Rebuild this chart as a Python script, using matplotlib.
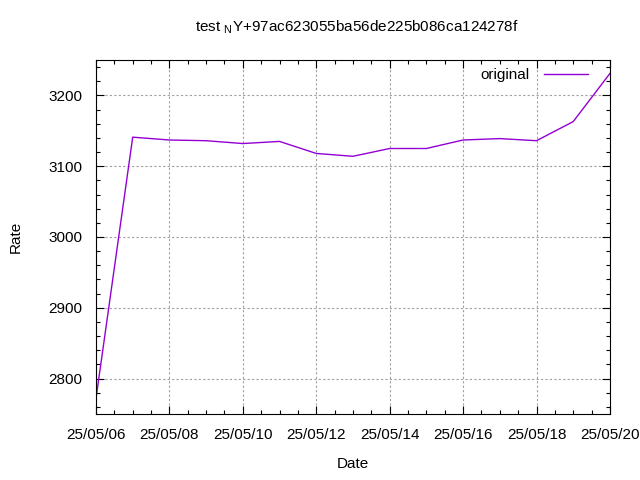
import numpy as np
import pandas as pd
import matplotlib
matplotlib.use('Agg')
import matplotlib.pyplot as plt
import matplotlib.dates as mdates
from matplotlib.ticker import MultipleLocator

plt.rcParams['font.family'] = ['Liberation Sans', 'DejaVu Sans']

# data
dates = pd.date_range('2025-05-06', '2025-05-20', freq='D')
rate = [2772, 3141, 3137, 3136, 3132, 3135, 3118, 3114,
        3125, 3125, 3137, 3139, 3136, 3163, 3231]
series_name = 'original'
title = 'test $_\\mathregular{N}$Y+97ac623055ba56de225b086ca124278f'

fig = plt.figure(figsize=(6.4, 4.8), dpi=100)
ax = fig.add_axes([0.15, 0.1375, 0.803, 0.7375])

ax.plot(dates, rate, color='#9400D3', lw=1, label=series_name)

ax.set_xlim(dates[0], dates[-1])
ax.set_ylim(2750, 3250)

ax.xaxis.set_major_locator(mdates.DayLocator(interval=2))
ax.xaxis.set_minor_locator(mdates.HourLocator(byhour=[0, 12]))
ax.xaxis.set_major_formatter(mdates.DateFormatter('%y/%m/%d'))
ax.yaxis.set_major_locator(MultipleLocator(100))
ax.yaxis.set_minor_locator(MultipleLocator(20))

ax.tick_params(which='both', direction='in', top=True, right=True,
               labelsize=11, pad=10)
ax.tick_params(which='major', length=6, width=0.8)
ax.tick_params(which='minor', length=3, width=0.8)

ax.grid(True, which='major', color='#a0a0a0', linestyle=(0, (2, 2)), lw=0.8)

ax.set_xlabel('Date', fontsize=11, labelpad=11)
ax.set_ylabel('Rate', fontsize=11, labelpad=18)
ax.set_title(title, fontsize=11, pad=21, x=0.508)

ax.legend(loc='upper right', bbox_to_anchor=(0.975, 1.003), frameon=False,
          fontsize=11, handlelength=2.9, handletextpad=0.9,
          markerfirst=False, borderaxespad=0.2)

fig.savefig('out.png', dpi=100)
